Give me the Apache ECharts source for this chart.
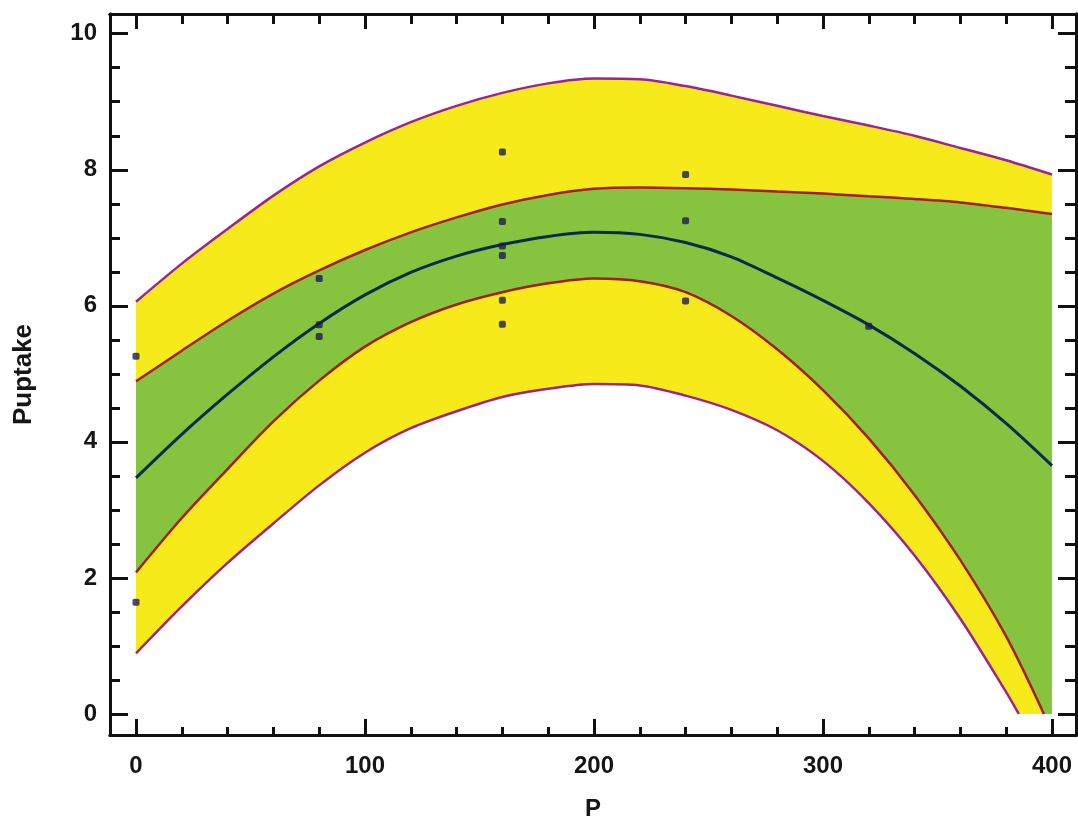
<!DOCTYPE html>
<html>
<head>
<meta charset="utf-8">
<script src="https://cdn.jsdelivr.net/npm/echarts@6/dist/echarts.min.js"></script>
<style>
  html, body { margin: 0; padding: 0; background: #fff; }
  #main { width: 1078px; height: 828px; }
</style>
</head>
<body>
<div id="main"></div>
<script>
var chart = echarts.init(document.getElementById('main'));

// x positions of the curve readings
var xs = [0, 20, 40, 60, 80, 100, 120, 140, 160, 180, 200, 220, 240, 260, 280, 300, 320, 340, 360, 380, 400];
// upper / lower prediction limits (magenta)
var upperPred = [6.06, 6.62, 7.13, 7.62, 8.05, 8.40, 8.70, 8.94, 9.13, 9.27, 9.34, 9.33, 9.23, 9.09, 8.94, 8.79, 8.65, 8.50, 8.32, 8.14, 7.93];
var lowerPred = [0.89, 1.58, 2.22, 2.80, 3.36, 3.84, 4.20, 4.45, 4.66, 4.78, 4.85, 4.83, 4.68, 4.47, 4.17, 3.72, 3.10, 2.33, 1.40, 0.32];
var lowerPredZero = 385.5;   // where the lower prediction limit reaches 0
// upper / lower confidence limits (red)
var upperConf = [4.89, 5.34, 5.78, 6.18, 6.52, 6.82, 7.08, 7.30, 7.49, 7.63, 7.72, 7.74, 7.73, 7.71, 7.68, 7.65, 7.61, 7.57, 7.52, 7.44, 7.35];
var lowerConf = [2.08, 2.88, 3.60, 4.30, 4.90, 5.40, 5.76, 6.02, 6.20, 6.33, 6.40, 6.36, 6.20, 5.85, 5.36, 4.76, 4.05, 3.22, 2.26, 1.14];
var lowerConfZero = 396.5;
// fitted curve (dark blue)
var fitted = [3.47, 4.11, 4.70, 5.25, 5.74, 6.16, 6.49, 6.73, 6.90, 7.02, 7.08, 7.05, 6.93, 6.72, 6.41, 6.08, 5.72, 5.30, 4.82, 4.27, 3.65];

// observations
var obsX = [0, 0, 80, 80, 80, 160, 160, 160, 160, 160, 160, 240, 240, 240, 320];
var obsY = [5.26, 1.64, 6.40, 5.72, 5.55, 8.26, 7.24, 6.88, 6.74, 6.08, 5.73, 7.93, 7.25, 6.07, 5.70];

var xMajor = [0, 100, 200, 300, 400];
var yMajor = [0, 2, 4, 6, 8, 10];

function pairs(vals) {
  return vals.map(function (v, i) { return [xs[i], v]; });
}
function withZero(vals, xZero) {
  var p = pairs(vals);
  p.push([xZero, 0]);
  return p;
}
function band(upper, lowerPts) {
  var lo = lowerPts.slice();
  if (lo[lo.length - 1][0] < 400) lo.push([400, 0]);
  return upper.concat(lo.reverse());
}

var xMinor = [], yMinor = [];
for (var i = 20; i < 400; i += 20) if (i % 100 !== 0) xMinor.push(i);
for (var j = 0.5; j < 10.2; j += 0.5) if (j % 2 !== 0) yMinor.push(j);

var predBand = band(pairs(upperPred), withZero(lowerPred, lowerPredZero));
var confBand = band(pairs(upperConf), withZero(lowerConf, lowerConfZero));

function polySeries(pts, color) {
  return {
    type: 'custom',
    silent: true,
    data: [0],
    renderItem: function (params, api) {
      return {
        type: 'polygon',
        shape: { points: pts.map(function (p) { return api.coord(p); }) },
        style: { fill: color }
      };
    },
    z: 1
  };
}
function lineSeries(data, color, width) {
  return {
    type: 'line',
    data: data,
    showSymbol: false,
    smooth: 0.3,
    lineStyle: { color: color, width: width },
    silent: true,
    z: 3
  };
}

var font = 'Liberation Sans, Arial, sans-serif';
var lineCol = '#111';
var xRange = { min: -11.35, max: 410.5 };
var yRange = { min: -0.31, max: 10.29 };

function xAx(pos, ticks, len, labels) {
  return {
    type: 'value', position: pos, min: xRange.min, max: xRange.max,
    axisLine: { show: true, onZero: false, lineStyle: { color: lineCol, width: 3 } },
    axisTick: { show: true, inside: true, length: len, customValues: ticks, lineStyle: { color: lineCol, width: 3 } },
    axisLabel: labels ? { show: true, customValues: xMajor, margin: 19, fontSize: 24, fontWeight: 'bold', color: '#151515', fontFamily: font } : { show: false },
    splitLine: { show: false }
  };
}
function yAx(pos, ticks, len, labels) {
  return {
    type: 'value', position: pos, min: yRange.min, max: yRange.max,
    axisLine: { show: true, onZero: false, lineStyle: { color: lineCol, width: 3 } },
    axisTick: { show: true, inside: true, length: len, customValues: ticks, lineStyle: { color: lineCol, width: 3 } },
    axisLabel: labels ? { show: true, customValues: yMajor, margin: 13, fontSize: 24, fontWeight: 'bold', color: '#151515', fontFamily: font } : { show: false },
    splitLine: { show: false }
  };
}

var xA = xAx('bottom', xMajor, 16, true);
xA.name = 'P';
xA.nameLocation = 'middle';
xA.nameGap = 62;
xA.nameTextStyle = { fontSize: 24, fontWeight: 'bold', color: '#151515', fontFamily: font };
var yA = yAx('left', yMajor, 18, true);
yA.name = 'Puptake';
yA.nameLocation = 'middle';
yA.nameGap = 73;
yA.nameTextStyle = { fontSize: 26, fontWeight: 'bold', color: '#151515', fontFamily: font };

var option = {
  animation: false,
  backgroundColor: '#fff',
  grid: { left: 110, right: 2, top: 14, bottom: 93 },
  xAxis: [xA, xAx('bottom', xMinor, 8, false), xAx('top', xMajor, 15, false), xAx('top', xMinor, 10, false)],
  yAxis: [yA, yAx('left', yMinor, 10, false), yAx('right', yMajor, 18, false), yAx('right', yMinor, 11, false)],
  series: [
    polySeries(predBand, '#f7ea1a'),
    polySeries(confBand, '#86c440'),
    lineSeries(pairs(upperPred), '#9c2390', 2.5),
    lineSeries(withZero(lowerPred, lowerPredZero), '#9c2390', 2.5),
    lineSeries(pairs(upperConf), '#a51d1d', 2.5),
    lineSeries(withZero(lowerConf, lowerConfZero), '#a51d1d', 2.5),
    lineSeries(pairs(fitted), '#0c2a4c', 3),
    {
      type: 'scatter',
      data: obsX.map(function (x, i) { return [x, obsY[i]]; }),
      symbol: 'roundRect',
      symbolSize: 7,
      itemStyle: { color: '#1c1c52' },
      silent: true,
      z: 4
    }
  ]
};
chart.setOption(option);
</script>
</body>
</html>
